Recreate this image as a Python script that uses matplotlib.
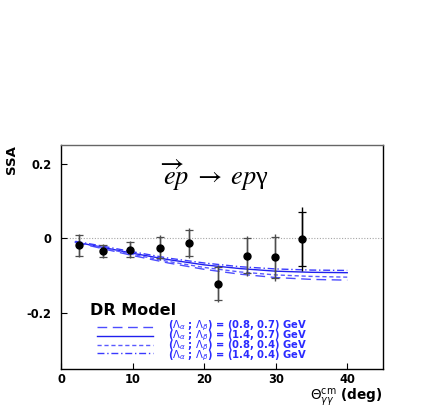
import matplotlib
matplotlib.use("Agg")
import matplotlib.pyplot as plt
from matplotlib.lines import Line2D

# Data points (SSA vs theta)
theta = [2.5, 5.9, 9.7, 13.9, 17.9, 21.9, 26.0, 29.9, 33.7]
ssa = [-0.019, -0.034, -0.031, -0.025, -0.013, -0.121, -0.047, -0.051, -0.002]
stat_err = [0.027, 0.017, 0.020, 0.029, 0.035, 0.044, 0.047, 0.055, 0.072]
tot_err = [0.031, 0.020, 0.023, 0.033, 0.040, 0.050, 0.054, 0.062, 0.085]

# DR model curves
theta_model = [2, 5, 10, 15, 20, 25, 30, 35, 40]
dr_08_07 = [-0.011, -0.024, -0.046, -0.066, -0.083, -0.096, -0.105, -0.110, -0.112]
dr_14_07 = [-0.010, -0.021, -0.040, -0.057, -0.071, -0.081, -0.088, -0.091, -0.092]
dr_08_04 = [-0.010, -0.022, -0.043, -0.062, -0.078, -0.090, -0.098, -0.102, -0.104]
dr_14_04 = [-0.008, -0.018, -0.036, -0.053, -0.066, -0.076, -0.082, -0.085, -0.086]

labels = [r"($\Lambda_\alpha$ ; $\Lambda_\beta$) = (0.8, 0.7) GeV",
          r"($\Lambda_\alpha$ ; $\Lambda_\beta$) = (1.4, 0.7) GeV",
          r"($\Lambda_\alpha$ ; $\Lambda_\beta$) = (0.8, 0.4) GeV",
          r"($\Lambda_\alpha$ ; $\Lambda_\beta$) = (1.4, 0.4) GeV"]

xticks = [0, 10, 20, 30, 40]
yticks = [-0.2, 0, 0.2]
ytick_labels = ["-0.2", "0", "0.2"]

plt.rcParams['font.family'] = ['DejaVu Sans']
plt.rcParams['mathtext.fontset'] = 'dejavusans'

fig = plt.figure(figsize=(4.36, 4.09), dpi=100)
ax = fig.add_axes([61/436, 1 - 369/409, 322/436, 224/409])

ax.axhline(0, color='0.65', lw=0.8, ls=(0, (1, 1.5)), zorder=1)

styles = [dict(color='#3a3aff', lw=1.0, dashes=(7, 4), alpha=0.9),
          dict(color='#2020ee', lw=1.0),
          dict(color='#5a5aff', lw=1.0, dashes=(3, 2)),
          dict(color='#3a3aff', lw=1.0, dashes=(5, 2, 1, 2))]
curves = [dr_08_07, dr_14_07, dr_08_04, dr_14_04]
for cv, st in zip(curves, styles):
    ax.plot(theta_model, cv, **st)

colors = ['0.3'] * 8 + ['black']
for xi, yi, se, te, c in zip(theta, ssa, stat_err, tot_err, colors):
    ax.errorbar([xi], [yi], yerr=[te], fmt='none', ecolor=c, elinewidth=1.0, capsize=0, zorder=3)
    ax.errorbar([xi], [yi], yerr=[se], fmt='o', color='black', ecolor=c, elinewidth=1.0,
                capsize=3.2, capthick=0.9, markersize=5, zorder=4)

ax.set_xlim(0, 45)
ax.set_ylim(-0.35, 0.25)
ax.set_xticks(xticks)
ax.set_xticklabels([str(t) for t in xticks], fontweight='bold', fontsize=8.3)
ax.set_yticks(yticks)
ax.set_yticklabels(ytick_labels, fontweight='bold', fontsize=8.3)
ax.tick_params(direction='in', length=4, width=0.8)
ax.tick_params(axis='y', pad=7)
ax.tick_params(axis='x', pad=3)
for s in ax.spines.values():
    s.set_linewidth(1.0)
ax.spines['top'].set_color('0.4')

ax.set_ylabel('SSA', loc='top', fontweight='bold', fontsize=9.5, labelpad=6)
ax.set_xlabel(r'$\Theta^{\rm cm}_{\gamma\gamma}$ (deg)', loc='right', fontweight='bold',
              fontsize=9.8, labelpad=0)

ax.text(0.475, 0.865, r'$\overrightarrow{e}p\;\rightarrow\;ep$γ', transform=ax.transAxes,
        ha='center', va='center', fontsize=19, math_fontfamily='stix',
        family='Liberation Serif')

# Manual legend block
ax.text(0.09, 0.262, 'DR Model', transform=ax.transAxes, ha='left', va='center',
        fontsize=11.5, fontweight='bold')
row_y = [0.1875, 0.147, 0.109, 0.071]
for ry, st in zip(row_y, styles):
    ax.add_line(Line2D([0.112, 0.286], [ry, ry], transform=ax.transAxes, **st))
ax.text(0.332, sum(row_y) / 4 - 0.004, "\n".join(labels), transform=ax.transAxes, ha='left',
        va='center', fontsize=7.2, fontweight='bold', color='#2a2aff', linespacing=0.55)

fig.savefig('out.png', dpi=100)
